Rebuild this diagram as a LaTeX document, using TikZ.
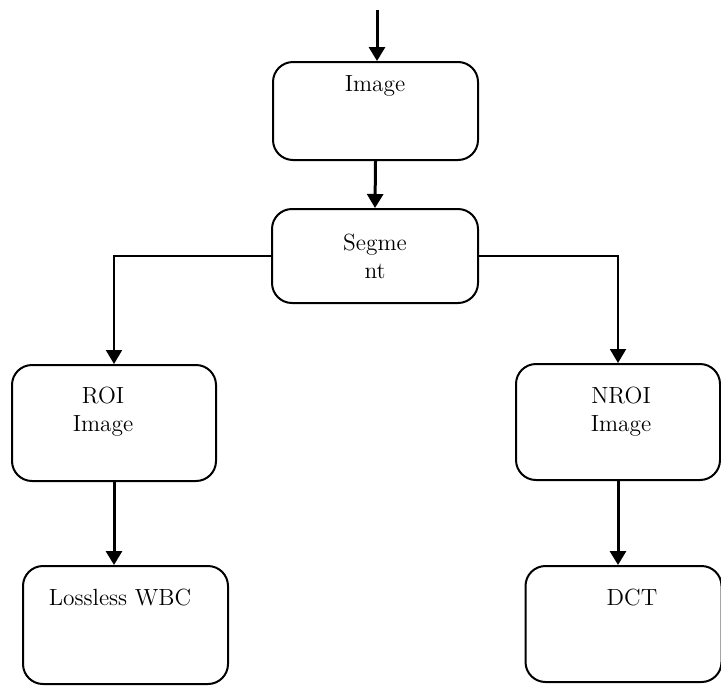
\documentclass[tikz,border=0pt]{standalone}
\usetikzlibrary{arrows.meta}

\begin{document}
\begin{tikzpicture}[x=0.5pt,y=-0.5pt,
  box/.style={draw,line width=1pt,rounded corners=10pt,inner sep=0pt},
  flow/.style={line width=1.5pt,-{Triangle[length=7pt,width=8pt]}},
  txt/.style={font=\fontsize{11.7}{14}\selectfont,align=center,inner sep=0pt}]

\useasboundingbox (0,0) rectangle (721,686);

% boxes
\node[box,minimum width=102.5pt,minimum height=49pt] (img) at (375.5,111) {};
\node[box,minimum width=103pt,minimum height=47pt] (seg) at (375,256) {};
\node[box,minimum width=102pt,minimum height=58pt] (roi) at (114,423) {};
\node[box,minimum width=102pt,minimum height=58pt] (nroi) at (618,422) {};
\node[box,minimum width=102.5pt,minimum height=59pt] (wbc) at (125.5,625) {};
\node[box,minimum width=98pt,minimum height=58pt] (dct) at (623.5,624) {};

% texts
\node[txt] (imgtxt) at (375,86) {Image};
\node[txt] (segtxt) at (375,256) {Segme\\nt};
\node[txt] (roitxt) at (103,412) {ROI\\Image};
\node[txt] (nroitxt) at (621,412) {NROI\\Image};
\node[txt] (wbctxt) at (120,597) {Lossless WBC};
\node[txt] (dcttxt) at (632,597) {DCT};

% arrows
\coordinate (in) at (377,10);
\draw[flow] (in) -- (in |- img.north);
\draw[flow] (img.south) -- (seg.north);
\draw[flow,line width=1pt] (seg.west) -| (roi.north);
\draw[flow,line width=1pt] (seg.east) -| (nroi.north);
\draw[flow] (roi.south) -- (roi.south |- wbc.north);
\draw[flow] (nroi.south) -- (nroi.south |- dct.north);

\end{tikzpicture}
\end{document}
